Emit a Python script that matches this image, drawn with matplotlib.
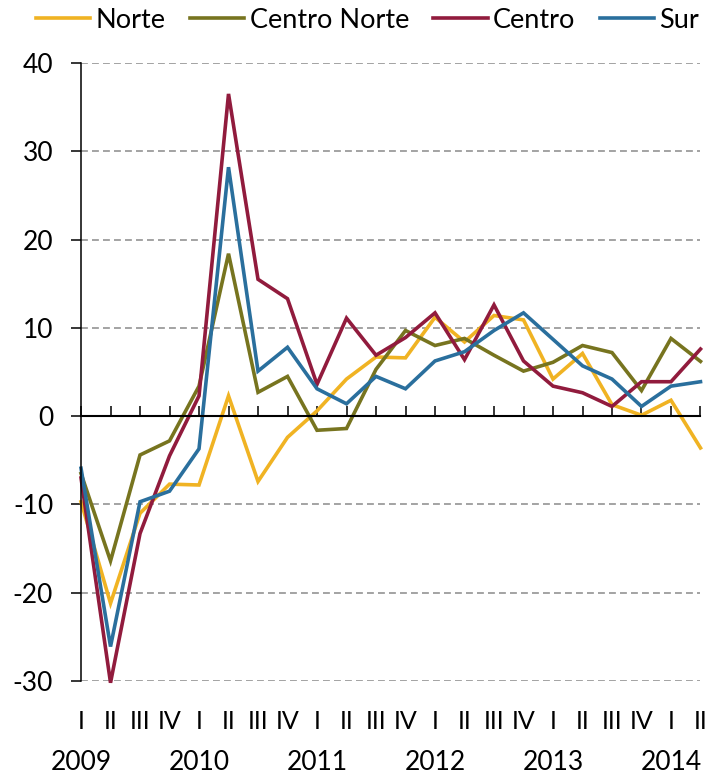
import matplotlib
matplotlib.use("Agg")
import matplotlib.pyplot as plt

plt.rcParams['font.family'] = ['Lato', 'DejaVu Sans']
plt.rcParams['axes.unicode_minus'] = False

quarters = ["I", "II", "III", "IV"] * 5 + ["I", "II"]
years = ["2009", "2010", "2011", "2012", "2013", "2014"]

norte = [-9.7, -21.2, -11.0, -7.7, -7.8, 2.3, -7.4, -2.4, 0.6, 4.2, 6.7, 6.6,
         11.2, 8.4, 11.4, 10.9, 4.2, 7.1, 1.3, 0.1, 1.8, -3.6]
centro_norte = [-6.5, -16.4, -4.4, -2.8, 3.4, 18.4, 2.7, 4.5, -1.6, -1.4, 5.3, 9.7,
                8.0, 8.8, 6.9, 5.1, 6.1, 8.0, 7.2, 2.9, 8.8, 6.2]
centro = [-7.0, -30.2, -13.3, -4.5, 2.3, 36.5, 15.5, 13.3, 3.6, 11.1, 6.9, 8.9,
          11.7, 6.4, 12.6, 6.25, 3.4, 2.65, 1.1, 3.9, 3.9, 7.6]
sur = [-5.9, -26.1, -9.7, -8.5, -3.7, 28.2, 5.1, 7.8, 3.1, 1.4, 4.5, 3.1,
       6.25, 7.3, 9.7, 11.7, 8.7, 5.7, 4.2, 1.1, 3.4, 3.9]

series = [("Norte", norte, "#F0B323"),
          ("Centro Norte", centro_norte, "#77741F"),
          ("Centro", centro, "#911B3D"),
          ("Sur", sur, "#2A6F9D")]

fig = plt.figure(figsize=(7.07, 7.75), dpi=100)
ax = fig.add_axes([0.1146, 0.1213, 0.9908 - 0.1146, 0.9187 - 0.1213])

x = list(range(len(quarters)))
for name, vals, col in series:
    ax.plot(x, vals, color=col, lw=2.6, label=name, clip_on=False,
            solid_joinstyle='miter')

ax.set_xlim(0, len(quarters) - 1)
ax.set_ylim(-30, 40)
ax.set_yticks(range(-30, 41, 10))
ax.yaxis.grid(True, color="#8A8A8A", lw=1.1, linestyle=(0, (4.5, 2.7)))
ax.set_axisbelow(True)

for s in ["top", "right"]:
    ax.spines[s].set_visible(False)
ax.spines["left"].set_linewidth(1.1)
ax.spines["bottom"].set_position(("data", 0))
ax.spines["bottom"].set_linewidth(1.5)
ax.spines["bottom"].set_zorder(3)

ax.set_xticks(x)
ax.tick_params(axis="x", direction="in", length=7, width=1.1, labelbottom=False)
ax.tick_params(axis="y", direction="out", length=7, width=1.1, pad=13,
               labelsize=19)

sec = ax.secondary_xaxis("bottom")
sec.set_xticks(x)
sec.set_xticklabels(quarters, fontsize=18)
sec.tick_params(length=0, pad=21)
sec.spines["bottom"].set_visible(False)

sec2 = ax.secondary_xaxis("bottom")
sec2.set_xticks(x[::4])
sec2.set_xticklabels(years, fontsize=19)
sec2.tick_params(length=0, pad=50)
sec2.spines["bottom"].set_visible(False)

fig.legend(loc="upper center", bbox_to_anchor=(0.52, 1.004), ncol=4,
           frameon=False, fontsize=19.5, handlelength=2.0, handletextpad=0.2,
           columnspacing=0.9, borderaxespad=0)

fig.savefig("out.png", dpi=100)
